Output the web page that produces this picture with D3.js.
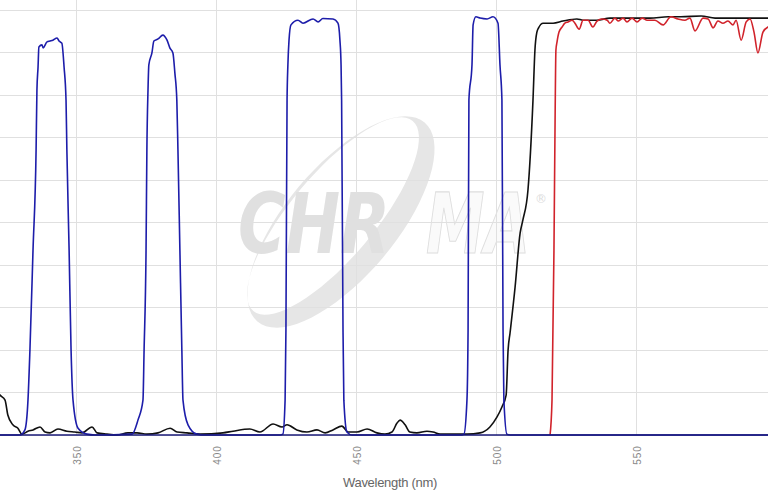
<!DOCTYPE html>
<html>
<head>
<meta charset="utf-8">
<script src="https://cdn.jsdelivr.net/npm/d3@7"></script>
<style>
  body { margin: 0; background: #fff; }
  svg { display: block; }
  .grid line { stroke: #e0e0e0; stroke-width: 1; shape-rendering: crispEdges; }
  .x-axis text { fill: #888; font-family: "Liberation Sans", Arial, sans-serif; font-size: 10px; letter-spacing: 1px; }
  .line { fill: none; stroke-width: 1.6; stroke-linejoin: round; }
</style>
</head>
<body>
<svg id="chart" width="768" height="497"></svg>
<script>
// x ticks (nm) and y gridlines (% transmission)
var xTicks = [350, 400, 450, 500, 550, 600];
var yTicks = [0, 10, 20, 30, 40, 50, 60, 70, 80, 90, 100];

// multiband excitation filter (blue) [wavelength nm, %T]
var excitation = [
  [318, 0], [329.6, 0], [331.4, 1.2], [332.5, 8.2], [333.2, 20], [334.3, 43.5], [335.4, 67.1],
  [335.7, 81.2], [336.1, 86.6], [336.4, 91.3], [337.5, 91.8], [337.9, 91.1], [339.3, 92.5],
  [340.4, 92.7], [341.4, 92.9], [342.9, 93.4], [343.6, 92.7], [344.6, 92.2], [345.4, 86.6],
  [346.1, 78.8], [346.4, 67.1], [347.2, 43.5], [347.9, 20], [348.6, 8.2], [350.4, 1.6],
  [353.6, 0.2], [356.4, 0],
  [369.7, 0.2], [371.8, 3.5], [373.6, 8.2], [374.0, 20], [374.7, 43.5], [375.0, 67.1],
  [375.4, 81.2], [375.7, 87.1], [376.8, 89.9], [377.5, 92.7], [379.0, 93.2], [380.7, 94.1],
  [382.2, 92.9], [383.2, 91.1], [384.3, 89.9], [385.0, 85.2], [385.7, 78.8], [386.1, 67.1],
  [386.8, 43.5], [387.5, 20], [387.9, 8.2], [389.7, 2.4], [392.9, 0.2], [395.8, 0],
  [422.6, 0], [423.6, 0.2], [424.4, 8.2], [424.7, 24.7], [425.1, 78.8], [425.4, 87.1],
  [425.8, 92.9], [426.5, 96.5], [429.0, 97.6], [430.8, 96.9], [434.4, 97.9], [436.2, 97.2],
  [437.9, 98.0], [441.5, 97.9], [443.3, 96.9], [444.0, 92.9], [444.4, 87.1], [444.6, 78.8],
  [445.1, 24.7], [445.4, 8.2], [446.5, 0.7], [448.3, 0],
  [486.9, 0], [488.3, 0.2], [489.4, 8.2], [489.8, 24.7], [490.1, 78.8], [491.2, 87.1],
  [491.6, 96.5], [492.6, 98.4], [494.1, 98.1], [496.6, 97.9], [498.7, 98.4], [500.5, 96.9],
  [501.2, 87.1], [501.9, 78.8], [502.3, 24.7], [502.6, 8.2], [503.7, 0.2], [505.5, 0],
  [600, 0]
];

// dichroic (black)
var dichroic = [
  [318, 16], [322.5, 9.4], [324.3, 8.2], [325.3, 4.7], [327.1, 2.4], [328.9, 1.6], [330.3, 0.2],
  [332.5, 0.9], [334.3, 1.2], [336.8, 1.9], [338.6, 0.7], [340.4, 0.5], [343.2, 1.4],
  [346.4, 0.9], [349.3, 0.7], [351.8, 0.5], [355.4, 1.9], [357.2, 0.5], [360.7, 0.2],
  [364.3, 0], [368.2, 0.5], [371.5, 0.5], [375.0, 0.2], [379.0, 0.5], [383.3, 1.6],
  [385.8, 0.7], [389.3, 0.5], [394.0, 0.2], [402.2, 0.5], [405.8, 0.9], [411.8, 1.4],
  [415.4, 0.7], [420.1, 2.6], [423.3, 1.9], [425.1, 2.4], [428.6, 1.2], [432.2, 0.7],
  [435.8, 1.2], [438.7, 0.5], [441.5, 1.2], [444.7, 2.1], [446.9, 0.7], [450.1, 0.7],
  [453.7, 1.4], [457.2, 0.5], [460.1, 0.2], [462.6, 0.7], [464.4, 2.8], [465.5, 3.5],
  [467.3, 2.4], [469.0, 0.7], [471.5, 0.5], [475.1, 0.9], [477.3, 0.7], [479.8, 0.2],
  [489.4, 0.2], [494.1, 0.5], [497.6, 1.9], [500.1, 4.2], [501.9, 6.6], [503.4, 9.4],
  [504.1, 20], [504.8, 24], [506.6, 34.8], [508.4, 47.5], [509.4, 50.6], [511.2, 57.6],
  [513.0, 78.8], [513.7, 90.6], [514.4, 94.8], [515.0, 95.8], [516.6, 96.9], [520.2, 96.9],
  [523.7, 97.4], [528.7, 97.9], [530.9, 97.6], [535.9, 97.6], [540.5, 98.1], [545.2, 98.1],
  [550.2, 98.1], [554.8, 98.1], [561.3, 98.4], [565.9, 98.4], [573.1, 98.6], [578.1, 98.1],
  [585.2, 98.1], [589.9, 98.1], [597.0, 98.1], [600, 98.1]
];

// emission filter (red)
var emission = [
  [519.1, 0], [519.8, 8.2], [520.5, 43.5], [520.9, 74.1], [521.2, 90.6], [521.6, 92.5],
  [522.3, 94.8], [523.4, 96.0], [524.4, 96.9], [525.5, 97.2], [527.0, 97.6], [528.0, 96.9],
  [529.5, 95.5], [530.9, 97.6], [532.7, 97.6], [534.4, 96.0], [535.9, 97.4], [537.7, 97.9],
  [539.5, 97.6], [540.5, 96.9], [542.3, 98.1], [543.4, 97.4], [545.2, 98.1], [546.6, 97.2],
  [548.4, 98.1], [550.2, 97.2], [552.0, 98.1], [553.8, 97.6], [556.6, 97.6], [559.5, 96.5],
  [562.3, 98.4], [564.8, 97.9], [567.3, 97.6], [569.1, 98.1], [570.9, 95.1], [573.8, 98.1],
  [575.6, 97.9], [577.4, 95.8], [579.1, 97.4], [580.9, 96.9], [582.7, 97.4], [584.5, 96.5],
  [585.6, 97.6], [587.4, 92.9], [589.2, 97.2], [590.6, 97.9], [592.0, 94.8], [593.4, 89.9],
  [595.2, 94.8], [597.0, 96.0], [600, 96.5]
];

var svg = d3.select("#chart"),
  width = +svg.attr("width"),
  plotBottom = 435,
  plotTop = 10;

var x = d3.scaleLinear()
  .domain([322.5, 597])
  .range([0, width]);

var y = d3.scaleLinear()
  .domain([0, 100])
  .range([plotBottom, plotTop]);

// watermark logo
var wm = svg.append("g").attr("class", "watermark");

wm.append("path")
  .attr("fill", "#e6e6e6")
  .attr("fill-rule", "evenodd")
  .attr("d", ellipsePath(341, 222, 130, 55, -50) + ellipsePath(333, 216, 124, 42, -50));

wm.append("text")
  .attr("x", 238).attr("y", 253)
  .attr("textLength", 152).attr("lengthAdjust", "spacingAndGlyphs")
  .style("font-family", "DejaVu Sans, Arial, sans-serif")
  .style("font-weight", "bold").style("font-style", "italic")
  .style("font-size", "84px")
  .attr("fill", "#e0e0e0")
  .text("CHR");

// outlined "MA" and the registered mark share one text element
var ma = wm.append("text")
  .style("font-family", "DejaVu Sans, Arial, sans-serif");

ma.append("tspan")
  .attr("x", 426).attr("y", 253)
  .attr("textLength", 104).attr("lengthAdjust", "spacingAndGlyphs")
  .style("font-weight", "bold").style("font-style", "italic")
  .style("font-size", "84px")
  .attr("fill", "#fafafa").attr("stroke", "#dedede").attr("stroke-width", 1.2)
  .text("MA");

ma.append("tspan")
  .attr("x", 535).attr("y", 203)
  .style("font-size", "12px")
  .attr("fill", "#dddddd")
  .text("®");

function ellipsePath(cx, cy, rx, ry, deg) {
  var a = deg * Math.PI / 180, pts = [];
  for (var i = 0; i <= 72; i++) {
    var t = i / 72 * 2 * Math.PI,
      ex = rx * Math.cos(t), ey = ry * Math.sin(t);
    pts.push([cx + ex * Math.cos(a) - ey * Math.sin(a), cy + ex * Math.sin(a) + ey * Math.cos(a)]);
  }
  return "M" + pts.map(p => p[0].toFixed(1) + "," + p[1].toFixed(1)).join("L") + "Z";
}

// gridlines
svg.append("g").attr("class", "grid")
  .selectAll("line.h").data(yTicks).enter().append("line")
  .attr("x1", 0).attr("x2", width)
  .attr("y1", d => y(d)).attr("y2", d => y(d));

svg.append("g").attr("class", "grid")
  .selectAll("line.v").data(xTicks).enter().append("line")
  .attr("x1", d => x(d)).attr("x2", d => x(d))
  .attr("y1", 0).attr("y2", plotBottom);

// x axis with rotated labels
var xAxis = svg.append("g")
  .attr("class", "x-axis")
  .attr("transform", "translate(0," + plotBottom + ")")
  .call(d3.axisBottom(x).tickValues(xTicks).tickSize(0).tickPadding(0));

xAxis.select(".domain").remove();
xAxis.selectAll("text")
  .attr("transform", "rotate(-90)")
  .attr("x", -20).attr("y", 0)
  .attr("dy", "0.35em")
  .attr("text-anchor", "middle");

svg.append("text")
  .attr("x", 390).attr("y", 487)
  .attr("text-anchor", "middle")
  .style("font-family", "Liberation Sans, Arial, sans-serif")
  .style("font-size", "13px")
  .style("letter-spacing", "-0.3px")
  .attr("fill", "#666")
  .text("Wavelength (nm)");

// curves
svg.append("clipPath").attr("id", "plot-clip")
  .append("rect").attr("x", 0).attr("y", 0).attr("width", width).attr("height", plotBottom + 1);

var line = d3.line()
  .curve(d3.curveMonotoneX)
  .x(d => x(d[0]))
  .y(d => y(d[1]));

var series = [
  { id: "dichroic", values: dichroic, color: "#111111" },
  { id: "emission", values: emission, color: "#d1232b" },
  { id: "excitation", values: excitation, color: "#1d1daa" }
];

var plot = svg.append("g").attr("clip-path", "url(#plot-clip)");

plot.selectAll(".line")
  .data(series)
  .enter().append("path")
  .attr("class", d => "line " + d.id)
  .style("stroke", d => d.color)
  .attr("d", d => line(d.values));

// baseline
svg.append("line")
  .attr("x1", 0).attr("x2", width)
  .attr("y1", plotBottom).attr("y2", plotBottom)
  .attr("stroke", "#1a1a78").attr("stroke-width", 1.6);
</script>
</body>
</html>
